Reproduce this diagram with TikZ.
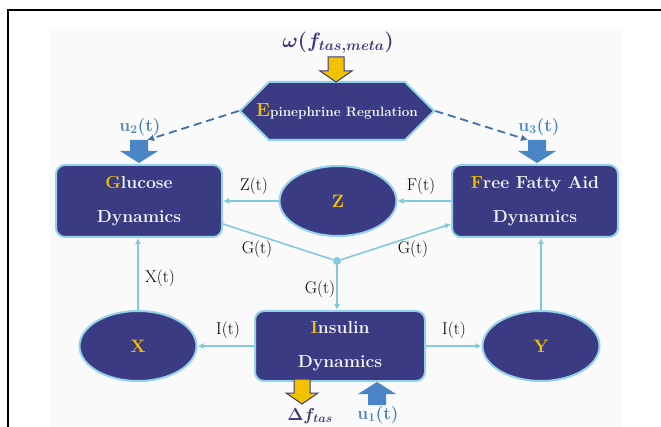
\documentclass[tikz,border=0pt]{standalone}
\usepackage{tikz}
\usetikzlibrary{positioning,shapes.geometric,shapes.symbols,arrows.meta}
\usepackage{amsmath,amssymb,bm}
\usepackage{xcolor}
\definecolor{boxNavy}{HTML}{3A3B83}
\definecolor{edgeBlue}{HTML}{92D3EA}
\definecolor{linkBlue}{HTML}{83C8DE}
\definecolor{blockBlue}{HTML}{4A86C6}
\definecolor{dashBlue}{HTML}{3E6FB0}
\definecolor{goldLetter}{HTML}{F2C200}
\definecolor{labelNavy}{HTML}{3B3A80}

\begin{document}
\begin{tikzpicture}[x=1pt, y=-1pt,
  dynbox/.style={draw=edgeBlue, line width=2pt, fill=boxNavy, rounded corners=9pt,
    minimum width=166pt, minimum height=72pt, align=center, text=white!94!boxNavy,
    font=\fontsize{17.5}{20}\selectfont\bfseries},
  stateell/.style={ellipse, draw=edgeBlue, line width=2pt, fill=boxNavy,
    minimum width=117pt, minimum height=70pt, text=goldLetter,
    font=\fontsize{18}{18}\selectfont\bfseries},
  link/.style={draw=linkBlue, line width=1.6pt, -{Latex[length=6pt,width=6pt]}},
  linkline/.style={draw=linkBlue, line width=1.6pt},
  dashline/.style={draw=dashBlue, line width=1.8pt, dash pattern=on 8pt off 5pt,
    -{Latex[length=7pt,width=7pt]}},
  sig/.style={font=\fontsize{17}{17}\selectfont},
  ulabel/.style={text=blockBlue, font=\fontsize{17.5}{17.5}\selectfont\bfseries},
  blockdown/.pic={\path[pic actions] (-9,-23) -- (9,-23) -- (9,-12) -- (19,-12)
    -- (0,0) -- (-19,-12) -- (-9,-12) -- cycle;},
  yelldown/.pic={\path[pic actions] (-8,-25) -- (8,-25) -- (8,-11) -- (16,-11)
    -- (0,0) -- (-16,-11) -- (-8,-11) -- cycle;}]
  \useasboundingbox (0,0) rectangle (661,427);
  \fill[black!2] (50,28) rectangle (622,427);
  \draw[line width=1.2pt] (8,427) -- (8,10) -- (661,10);

  \node[signal, signal to=east and west, draw=edgeBlue, line width=2pt, fill=boxNavy,
    minimum width=194pt, minimum height=58pt, inner sep=0pt] (epi) at (337,111) {};
  \node[text=white!94!boxNavy, font=\fontsize{13.5}{13.5}\selectfont\bfseries]
    (epitext) at (epi.center)
    {\textcolor{goldLetter}{\fontsize{19}{19}\selectfont E}pinephrine Regulation};

  \node[dynbox] (glu) at (139,201) {\textcolor{goldLetter}{G}lucose\\[14pt]Dynamics};
  \node[dynbox] (ffa) at (535,201) {\textcolor{goldLetter}{F}ree Fatty Aid\\[14pt]Dynamics};
  \node[dynbox, minimum width=170pt, minimum height=70pt] (ins) at (340,346)
    {\textcolor{goldLetter}{I}nsulin\\[14pt]Dynamics};
  \node[stateell] (zell) at (338,201) {Z};
  \node[stateell] (xell) at (138,346) {X};
  \node[stateell] (yell) at (541,346) {Y};
  \node[circle, fill=linkBlue, inner sep=0pt, minimum size=8pt] (jn) at (337,261) {};

  \draw[link] (zell) -- (glu);
  \draw[link] (ffa) -- (zell);
  \draw[linkline] ([yshift=14pt]glu.south east) -- (jn);
  \draw[link] (jn) -- ([yshift=14pt]ffa.south west);
  \draw[link] (jn) -- (jn |- ins.north);
  \draw[link] (ins) -- (xell);
  \draw[link] (ins) -- (yell);
  \draw[link] (xell.north) -- (xell.north |- glu.south);
  \draw[link] (yell.north) -- (yell.north |- ffa.south);

  \node[sig] (lzt) at (254,186) {Z(t)};
  \node[sig] (lft) at (421,186) {F(t)};
  \node[sig] (lgl) at (257,249) {G(t)};
  \node[sig] (lgr) at (413,249) {G(t)};
  \node[sig] (lgi) at (320,289) {G(t)};
  \node[sig] (lxt) at (160,278) {X(t)};
  \node[sig] (lil) at (228,330) {I(t)};
  \node[sig] (lir) at (454,330) {I(t)};

  \node[text=labelNavy, font=\fontsize{20}{20}\selectfont] (omega) at (338,43)
    {$\bm{\omega(f_{tas,meta})}$};
  \pic[fill=goldLetter, draw=boxNavy, line width=1pt] at (336,82) {yelldown};

  \node[ulabel] (u2) at (140,127) {u$_{\mathbf{2}}$(t)};
  \node[ulabel] (u3) at (539,127) {u$_{\mathbf{3}}$(t)};
  \coordinate (u2end) at (147,140);
  \coordinate (u3end) at (528,140);
  \draw[dashline] (epi.west) -- (u2end);
  \draw[dashline] (epi.east) -- (u3end);
  \pic[fill=blockBlue] at (139,163) {blockdown};
  \pic[fill=blockBlue] at (537,163) {blockdown};

  \pic[fill=goldLetter, draw=boxNavy, line width=1pt] at (302,404) {yelldown};
  \node[text=labelNavy, font=\fontsize{17}{17}\selectfont] (dfl) at (310,416)
    {$\bm{\Delta f_{tas}}$};
  \pic[fill=blockBlue, rotate=180] at (377,382) {blockdown};
  \node[ulabel] (u1) at (378,415) {u$_{\mathbf{1}}$(t)};
\end{tikzpicture}
\end{document}
